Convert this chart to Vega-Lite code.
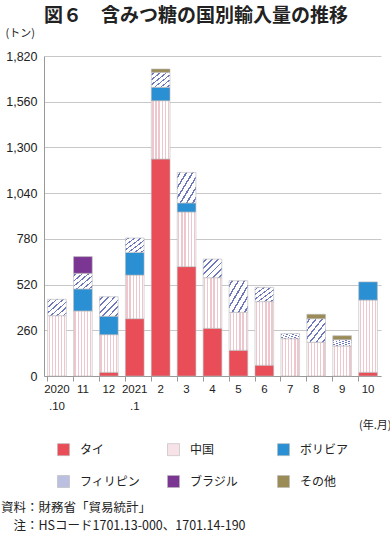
{
  "$schema": "https://vega.github.io/schema/vega-lite/v6.json",
  "padding": {"left": 1, "right": 0, "top": 7, "bottom": 2},
  "background": "white",
  "config": {"view": {"stroke": null}, "font": "Noto Sans CJK JP", "concat": {"spacing": 0}},
  "title": {"text": "図６　含みつ糖の国別輸入量の推移", "anchor": "middle", "fontSize": 19, "font": "Noto Sans CJK JP", "fontWeight": "bold", "color": "#222", "offset": 1},
  "vconcat": [
    {
      "width": 337,
      "height": 320,
      "title": {"text": ["資料：財務省「貿易統計」", "\u200b\u3000注：HSコード1701.13-000、1701.14-190"], "orient": "bottom", "anchor": "start", "frame": "group", "dx": -43, "fontSize": 12.5, "fontWeight": "normal", "font": "Noto Sans CJK JP", "color": "#222", "lineHeight": 18, "offset": 72},
      "data": {"values": [
        {"month": "2020.10", "country": "中国", "value": 343},
        {"month": "2020.10", "country": "フィリピン", "value": 93},
        {"month": "11", "country": "中国", "value": 370},
        {"month": "11", "country": "ボリビア", "value": 125},
        {"month": "11", "country": "フィリピン", "value": 89},
        {"month": "11", "country": "ブラジル", "value": 95},
        {"month": "12", "country": "タイ", "value": 21},
        {"month": "12", "country": "中国", "value": 214},
        {"month": "12", "country": "ボリビア", "value": 105},
        {"month": "12", "country": "フィリピン", "value": 111},
        {"month": "2021.1", "country": "タイ", "value": 326},
        {"month": "2021.1", "country": "中国", "value": 248},
        {"month": "2021.1", "country": "ボリビア", "value": 129},
        {"month": "2021.1", "country": "フィリピン", "value": 82},
        {"month": "2", "country": "タイ", "value": 1234},
        {"month": "2", "country": "中国", "value": 332},
        {"month": "2", "country": "ボリビア", "value": 76},
        {"month": "2", "country": "フィリピン", "value": 85},
        {"month": "2", "country": "その他", "value": 19},
        {"month": "3", "country": "タイ", "value": 622},
        {"month": "3", "country": "中国", "value": 311},
        {"month": "3", "country": "ボリビア", "value": 51},
        {"month": "3", "country": "フィリピン", "value": 174},
        {"month": "4", "country": "タイ", "value": 271},
        {"month": "4", "country": "中国", "value": 288},
        {"month": "4", "country": "フィリピン", "value": 106},
        {"month": "5", "country": "タイ", "value": 146},
        {"month": "5", "country": "中国", "value": 216},
        {"month": "5", "country": "フィリピン", "value": 180},
        {"month": "6", "country": "タイ", "value": 61},
        {"month": "6", "country": "中国", "value": 362},
        {"month": "6", "country": "フィリピン", "value": 81},
        {"month": "7", "country": "中国", "value": 212},
        {"month": "7", "country": "フィリピン", "value": 29},
        {"month": "8", "country": "中国", "value": 192},
        {"month": "8", "country": "フィリピン", "value": 134},
        {"month": "8", "country": "その他", "value": 25},
        {"month": "9", "country": "中国", "value": 171},
        {"month": "9", "country": "フィリピン", "value": 36},
        {"month": "9", "country": "その他", "value": 22},
        {"month": "10", "country": "タイ", "value": 21},
        {"month": "10", "country": "中国", "value": 411},
        {"month": "10", "country": "ボリビア", "value": 103}
      ]},
      "mark": {"type": "bar", "stroke": "#b8b8b8", "strokeWidth": 0.6},
      "encoding": {
        "x": {
          "field": "month", "type": "nominal",
          "sort": ["2020.10", "11", "12", "2021.1", "2", "3", "4", "5", "6", "7", "8", "9", "10"],
          "scale": {"paddingInner": 0.28, "paddingOuter": 0.14},
          "axis": {
            "title": "(年.月)", "titleX": 347, "titleY": 49, "titleAlign": "right", "titleBaseline": "middle", "titleAnchor": "end",
            "titleFont": "Noto Sans CJK JP", "titleFontSize": 11, "titleFontWeight": "normal", "titleColor": "#222",
            "labelAngle": 0, "labelExpr": "datum.value == '2020.10' ? ['2020', '.10'] : datum.value == '2021.1' ? ['2021', '.1'] : datum.value",
            "labelFont": "Liberation Sans", "labelFontSize": 11.5, "labelColor": "#222", "labelPadding": 2, "labelLineHeight": 17, "labelBaseline": "top",
            "tickSize": 5, "bandPosition": 0, "tickColor": "#999", "domainColor": "#999", "grid": false
          }
        },
        "y": {
          "field": "value", "type": "quantitative", "stack": "zero",
          "scale": {"domain": [0, 1820], "nice": false},
          "axis": {
            "values": [0, 260, 520, 780, 1040, 1300, 1560, 1820], "format": ",.0f",
            "title": "(トン)", "titleAngle": 0, "titleAlign": "left", "titleBaseline": "middle", "titleX": -39, "titleY": -23,
            "titleFont": "Noto Sans CJK JP", "titleFontSize": 11, "titleFontWeight": "normal", "titleColor": "#222",
            "labelFont": "Liberation Sans", "labelFontSize": 12.5, "labelColor": "#222", "labelPadding": 7,
            "ticks": false, "domainColor": "#999", "gridColor": "#c8c8c8", "grid": true
          }
        },
        "order": {"field": "month"},
        "fill": {
          "condition": [
            {"test": "datum.country === '中国'", "value": {"gradient": "linear", "x1": 0, "y1": 0, "x2": 1, "y2": 0, "stops": [
                {"offset": 0, "color": "#ffffff"}, {"offset": 0.05, "color": "#ffffff"}, {"offset": 0.05, "color": "#eec6cd"}, {"offset": 0.117, "color": "#eec6cd"},
                {"offset": 0.117, "color": "#ffffff"}, {"offset": 0.217, "color": "#ffffff"}, {"offset": 0.217, "color": "#eec6cd"}, {"offset": 0.283, "color": "#eec6cd"},
                {"offset": 0.283, "color": "#ffffff"}, {"offset": 0.383, "color": "#ffffff"}, {"offset": 0.383, "color": "#eec6cd"}, {"offset": 0.45, "color": "#eec6cd"},
                {"offset": 0.45, "color": "#ffffff"}, {"offset": 0.55, "color": "#ffffff"}, {"offset": 0.55, "color": "#eec6cd"}, {"offset": 0.617, "color": "#eec6cd"},
                {"offset": 0.617, "color": "#ffffff"}, {"offset": 0.717, "color": "#ffffff"}, {"offset": 0.717, "color": "#eec6cd"}, {"offset": 0.783, "color": "#eec6cd"},
                {"offset": 0.783, "color": "#ffffff"}, {"offset": 0.883, "color": "#ffffff"}, {"offset": 0.883, "color": "#eec6cd"}, {"offset": 0.95, "color": "#eec6cd"},
                {"offset": 0.95, "color": "#ffffff"}, {"offset": 1, "color": "#ffffff"}
              ]}},
            {"test": "datum.country === 'フィリピン'", "value": {"gradient": "linear", "x1": 0, "y1": 0, "x2": 1, "y2": 1, "stops": [
                {"offset": 0, "color": "#ffffff"}, {"offset": 0.06, "color": "#ffffff"}, {"offset": 0.06, "color": "#6d77bc"}, {"offset": 0.105, "color": "#6d77bc"},
                {"offset": 0.105, "color": "#ffffff"}, {"offset": 0.227, "color": "#ffffff"}, {"offset": 0.227, "color": "#6d77bc"}, {"offset": 0.272, "color": "#6d77bc"},
                {"offset": 0.272, "color": "#ffffff"}, {"offset": 0.394, "color": "#ffffff"}, {"offset": 0.394, "color": "#6d77bc"}, {"offset": 0.439, "color": "#6d77bc"},
                {"offset": 0.439, "color": "#ffffff"}, {"offset": 0.56, "color": "#ffffff"}, {"offset": 0.56, "color": "#6d77bc"}, {"offset": 0.605, "color": "#6d77bc"},
                {"offset": 0.605, "color": "#ffffff"}, {"offset": 0.727, "color": "#ffffff"}, {"offset": 0.727, "color": "#6d77bc"}, {"offset": 0.772, "color": "#6d77bc"},
                {"offset": 0.772, "color": "#ffffff"}, {"offset": 0.894, "color": "#ffffff"}, {"offset": 0.894, "color": "#6d77bc"}, {"offset": 0.939, "color": "#6d77bc"},
                {"offset": 0.939, "color": "#ffffff"}, {"offset": 1, "color": "#ffffff"}
              ]}}
          ],
          "field": "country", "type": "nominal",
          "sort": ["タイ", "中国", "ボリビア", "フィリピン", "ブラジル", "その他"],
          "scale": {
            "domain": ["タイ", "中国", "ボリビア", "フィリピン", "ブラジル", "その他"],
            "range": ["#e84d58", "#f7e3e7", "#2b8fd3", "#bcc0e0", "#7b3593", "#9b8c57"]
          },
          "legend": {
            "orient": "none", "legendX": 13, "legendY": 387, "direction": "horizontal", "columns": 3, "gridAlign": "all",
            "title": null, "symbolType": "square", "symbolSize": 144, "symbolStrokeColor": "#b8b8b8", "symbolStrokeWidth": 0.6,
            "labelFont": "Noto Sans CJK JP", "labelFontSize": 12, "labelColor": "#222", "labelOffset": 10, "labelLimit": 200,
            "columnPadding": 25, "rowPadding": 17
          }
        }
      }
    }
  ]
}
